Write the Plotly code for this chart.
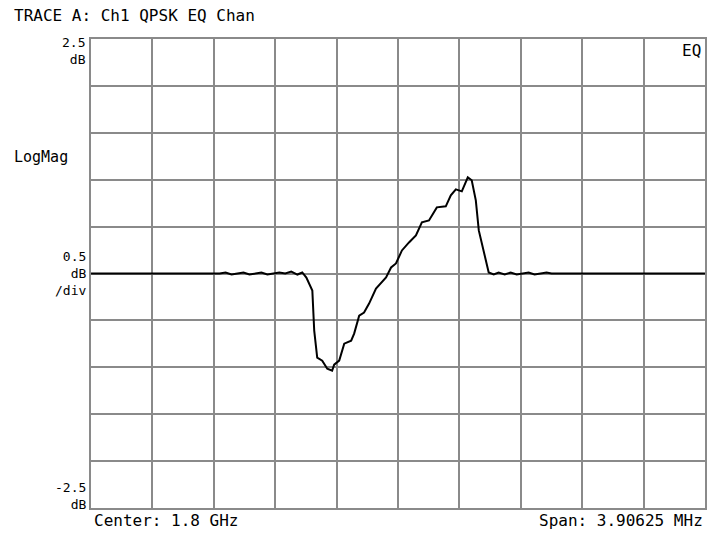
import plotly.graph_objects as go

# frequency offset from center (MHz) and equalizer channel response (dB)
freq_mhz = [
    -1.953, -1.135, -1.097, -1.059, -1.021, -0.983, -0.945, -0.907, -0.869,
    -0.831, -0.793, -0.755, -0.717, -0.679, -0.640, -0.609, -0.583, -0.564,
    -0.545, -0.533, -0.514, -0.482, -0.450, -0.419, -0.406, -0.374, -0.342,
    -0.298, -0.279, -0.247, -0.216, -0.184, -0.140, -0.076, -0.044, -0.013,
    0.025, 0.070, 0.114, 0.152, 0.197, 0.247, 0.304, 0.336, 0.368, 0.406,
    0.444, 0.469, 0.495, 0.514, 0.545, 0.577, 0.609, 0.640, 0.679, 0.717,
    0.755, 0.793, 0.831, 0.869, 0.907, 0.945, 0.977, 1.953,
]
mag_db = [
    0.0, 0.0, 0.011, -0.011, 0.0, 0.011, -0.011, 0.0, 0.011,
    -0.011, 0.0, 0.011, 0.0, 0.021, -0.011, 0.011, -0.043, -0.107,
    -0.182, -0.609, -0.897, -0.929, -1.015, -1.036, -0.972, -0.929, -0.748,
    -0.716, -0.641, -0.449, -0.417, -0.321, -0.160, -0.043, 0.064, 0.107,
    0.246, 0.331, 0.406, 0.545, 0.566, 0.705, 0.716, 0.833, 0.897, 0.876,
    1.026, 0.994, 0.780, 0.459, 0.246, 0.011, -0.011, 0.011, -0.011, 0.011,
    -0.011, 0.0, 0.011, -0.011, 0.0, 0.011, 0.0, 0.0,
]

span_mhz = 3.90625
y_top, y_bottom = 2.5, -2.5

MONO = "DejaVu Sans Mono"
GRID = "#8a8a8a"

L, T, W, H = 91, 39, 616, 469  # plot area in window pixels

fig = go.Figure()
fig.add_trace(go.Scatter(x=freq_mhz, y=mag_db, mode="lines",
                         line=dict(color="black", width=2), hoverinfo="skip"))

fig.update_xaxes(range=[-span_mhz / 2, span_mhz / 2], dtick=span_mhz / 10, tick0=0,
                 showticklabels=False, ticks="", showgrid=True, gridcolor=GRID, gridwidth=2,
                 zeroline=False, showline=True, linecolor=GRID, linewidth=2, mirror=True)
fig.update_yaxes(range=[y_bottom, y_top], dtick=0.5, tick0=0,
                 showticklabels=False, ticks="", showgrid=True, gridcolor=GRID, gridwidth=2,
                 zeroline=False, showline=True, linecolor=GRID, linewidth=2, mirror=True)


def label(text, x, y, xanchor="right", size=16):
    fig.add_annotation(text=text, x=(x - L) / W, y=(T + H - y) / H,
                       xref="paper", yref="paper", showarrow=False,
                       xanchor=xanchor, yanchor="middle", align=xanchor,
                       font=dict(family=MONO, size=size, color="black"))


label("TRACE A: Ch1 QPSK EQ Chan", 12, 15, xanchor="left")
label("2.5<br>dB", 88, 51, size=13)
label("LogMag", 12, 157, xanchor="left", size=15)
label("0.5<br>dB<br>/div", 88, 273, size=13)
label("-2.5<br>dB", 88, 496, size=13)
label("EQ", 705, 51)
label("Center: 1.8 GHz", 92, 520, xanchor="left")
label("Span: 3.90625 MHz", 707, 520)

fig.update_layout(
    width=710, height=533,
    margin=dict(l=L, r=710 - L - W, t=T, b=533 - T - H),
    paper_bgcolor="white", plot_bgcolor="white",
    showlegend=False,
)

# drop the default page margin so the figure sits flush with the window corner
fig.write_html("out.html", config={"displayModeBar": False},
               post_script="document.body.style.margin='0px';")
